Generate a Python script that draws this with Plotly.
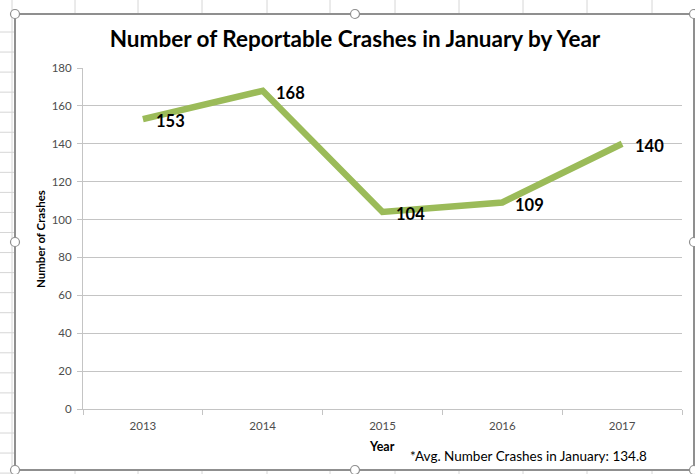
import plotly.graph_objects as go

# Chart data
years = ["2013", "2014", "2015", "2016", "2017"]
crashes = [153, 168, 104, 109, 140]
avg_crashes = 134.8
y_ticks = [0, 20, 40, 60, 80, 100, 120, 140, 160, 180]

W, H = 695, 474
L, R, T, B = 83, 13, 68, 65
PW, PH = W - L - R, H - T - B

FONT = "Lato"
LINE_GREEN = "#9BBB59"
GRID = "#c4c4c4"
TICK_TXT = "#4d4d4d"


def px(xp):
    return (xp - L) / PW


def py(yp):
    return (H - B - yp) / PH


fig = go.Figure()
fig.add_trace(go.Scatter(
    x=years, y=crashes, mode="lines",
    line=dict(color=LINE_GREEN, width=6.5),
    hoverinfo="x+y", showlegend=False,
))

annotations = []
# value labels to the right of each point (category index positions)
for i, v in enumerate(crashes):
    annotations.append(dict(
        x=i, y=v, xref="x", yref="y", text=f"<b>{v}</b>", showarrow=False,
        xanchor="left", yanchor="middle", xshift=11, yshift=-2,
        font=dict(family=FONT, size=16.5, color="#000000"),
    ))

annotations += [
    dict(x=px(40), y=py(239), xref="paper", yref="paper", text="<b>Number of Crashes</b>",
         textangle=-90, showarrow=False, xanchor="center", yanchor="middle",
         font=dict(family=FONT, size=11.5, color="#000000")),
    dict(x=px(382), y=py(447), xref="paper", yref="paper", text="<b>Year</b>",
         showarrow=False, xanchor="center", yanchor="middle",
         font=dict(family=FONT, size=12.5, color="#000000")),
    dict(x=px(408), y=py(456), xref="paper", yref="paper",
         text=f"*Avg. Number Crashes in January: {avg_crashes}",
         showarrow=False, xanchor="left", yanchor="middle",
         font=dict(family=FONT, size=13.5, color="#000000")),
]

shapes = []
SHEET = "#d6d6d6"
# worksheet cell lines around the chart object
for xv in [75, 138, 202, 267, 330, 395, 459, 523, 587, 652]:
    shapes.append(dict(type="line", xref="paper", yref="paper",
                       x0=px(xv), x1=px(xv), y0=py(0), y1=py(14),
                       line=dict(color=SHEET, width=1)))
    shapes.append(dict(type="line", xref="paper", yref="paper",
                       x0=px(xv), x1=px(xv), y0=py(470), y1=py(474),
                       line=dict(color=SHEET, width=1)))
shapes.append(dict(type="line", xref="paper", yref="paper",
                   x0=px(12), x1=px(12), y0=py(0), y1=py(474),
                   line=dict(color=SHEET, width=1)))
yy = 32
while yy < 474:
    shapes.append(dict(type="line", xref="paper", yref="paper",
                       x0=px(0), x1=px(15), y0=py(yy), y1=py(yy),
                       line=dict(color=SHEET, width=1)))
    yy += 20.05

# chart object border
FRAME = "#8f8f8f"
shapes.append(dict(type="rect", xref="paper", yref="paper",
                   x0=px(15), x1=px(694), y0=py(14), y1=py(470),
                   line=dict(color=FRAME, width=2), fillcolor="rgba(0,0,0,0)"))
# selection handles
r = 4.5
for hx, hy in [(15, 14), (355, 14), (694, 14), (15, 242), (694, 242),
               (15, 470), (355, 470), (694, 470)]:
    shapes.append(dict(type="circle", xref="paper", yref="paper",
                       x0=px(hx - r), x1=px(hx + r), y0=py(hy - r), y1=py(hy + r),
                       line=dict(color="#8f8f8f", width=1.2), fillcolor="#ffffff"))

fig.update_layout(
    width=W, height=H,
    margin=dict(l=L, r=R, t=T, b=B),
    paper_bgcolor="#ffffff", plot_bgcolor="#ffffff",
    title=dict(text="<b>Number of Reportable Crashes in January by Year</b>",
               x=355 / W, xanchor="center", y=1 - 39 / H, yanchor="middle",
               font=dict(family=FONT, size=22.5, color="#000000")),
    xaxis=dict(type="category", categoryorder="array", categoryarray=years,
               range=[-0.5, len(years) - 0.5], autorange=False,
               tickson="boundaries", ticks="outside", ticklen=5,
               tickcolor=GRID, showline=True, linecolor=GRID, linewidth=1,
               showgrid=False, tickangle=0,
               tickfont=dict(family=FONT, size=11.5, color=TICK_TXT),
               ticklabelstandoff=6, fixedrange=True),
    yaxis=dict(range=[0, 180], autorange=False, tickvals=y_ticks, ticks="outside", ticklen=5,
               tickcolor=GRID, showline=True, linecolor=GRID, linewidth=1,
               showgrid=True, gridcolor=GRID, zeroline=False,
               tickfont=dict(family=FONT, size=11.5, color=TICK_TXT),
               ticklabelstandoff=3, fixedrange=True),
    annotations=annotations,
    shapes=shapes,
)

fig.write_html("out.html")
